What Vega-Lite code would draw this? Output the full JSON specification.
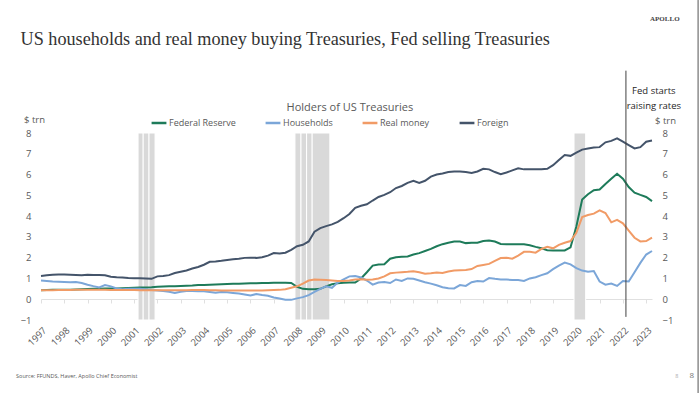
{
  "$schema": "https://vega.github.io/schema/vega-lite/v6.json",
  "width": 611,
  "height": 187,
  "autosize": {"type": "none"},
  "padding": {"left": 41, "top": 133, "right": 48, "bottom": 73},
  "background": "white",
  "config": {"view": {"stroke": null}, "font": "Open Sans"},
  "datasets": {
    "series": [
      {"t": 1997.00, "Federal Reserve": 0.43, "Households": 0.90, "Real money": 0.43, "Foreign": 1.12},
      {"t": 1997.25, "Federal Reserve": 0.44, "Households": 0.88, "Real money": 0.43, "Foreign": 1.15},
      {"t": 1997.50, "Federal Reserve": 0.45, "Households": 0.85, "Real money": 0.43, "Foreign": 1.18},
      {"t": 1997.75, "Federal Reserve": 0.45, "Households": 0.84, "Real money": 0.44, "Foreign": 1.19},
      {"t": 1998.00, "Federal Reserve": 0.46, "Households": 0.83, "Real money": 0.44, "Foreign": 1.19},
      {"t": 1998.25, "Federal Reserve": 0.46, "Households": 0.82, "Real money": 0.44, "Foreign": 1.18},
      {"t": 1998.50, "Federal Reserve": 0.47, "Households": 0.83, "Real money": 0.45, "Foreign": 1.17},
      {"t": 1998.75, "Federal Reserve": 0.48, "Households": 0.78, "Real money": 0.45, "Foreign": 1.15},
      {"t": 1999.00, "Federal Reserve": 0.49, "Households": 0.70, "Real money": 0.45, "Foreign": 1.18},
      {"t": 1999.25, "Federal Reserve": 0.50, "Households": 0.63, "Real money": 0.45, "Foreign": 1.17},
      {"t": 1999.50, "Federal Reserve": 0.51, "Households": 0.57, "Real money": 0.45, "Foreign": 1.16},
      {"t": 1999.75, "Federal Reserve": 0.52, "Households": 0.68, "Real money": 0.45, "Foreign": 1.15},
      {"t": 2000.00, "Federal Reserve": 0.52, "Households": 0.62, "Real money": 0.44, "Foreign": 1.08},
      {"t": 2000.25, "Federal Reserve": 0.52, "Households": 0.52, "Real money": 0.44, "Foreign": 1.06},
      {"t": 2000.50, "Federal Reserve": 0.53, "Households": 0.48, "Real money": 0.44, "Foreign": 1.05},
      {"t": 2000.75, "Federal Reserve": 0.54, "Households": 0.50, "Real money": 0.44, "Foreign": 1.02},
      {"t": 2001.00, "Federal Reserve": 0.55, "Households": 0.51, "Real money": 0.44, "Foreign": 1.01},
      {"t": 2001.25, "Federal Reserve": 0.56, "Households": 0.50, "Real money": 0.43, "Foreign": 1.01},
      {"t": 2001.50, "Federal Reserve": 0.57, "Households": 0.47, "Real money": 0.43, "Foreign": 1.00},
      {"t": 2001.75, "Federal Reserve": 0.58, "Households": 0.44, "Real money": 0.43, "Foreign": 0.98},
      {"t": 2002.00, "Federal Reserve": 0.60, "Households": 0.42, "Real money": 0.43, "Foreign": 1.10},
      {"t": 2002.25, "Federal Reserve": 0.61, "Households": 0.40, "Real money": 0.43, "Foreign": 1.12},
      {"t": 2002.50, "Federal Reserve": 0.62, "Households": 0.36, "Real money": 0.43, "Foreign": 1.16},
      {"t": 2002.75, "Federal Reserve": 0.63, "Households": 0.30, "Real money": 0.43, "Foreign": 1.26},
      {"t": 2003.00, "Federal Reserve": 0.64, "Households": 0.36, "Real money": 0.43, "Foreign": 1.32},
      {"t": 2003.25, "Federal Reserve": 0.65, "Households": 0.40, "Real money": 0.43, "Foreign": 1.38},
      {"t": 2003.50, "Federal Reserve": 0.66, "Households": 0.40, "Real money": 0.44, "Foreign": 1.48},
      {"t": 2003.75, "Federal Reserve": 0.68, "Households": 0.38, "Real money": 0.44, "Foreign": 1.55},
      {"t": 2004.00, "Federal Reserve": 0.69, "Households": 0.38, "Real money": 0.44, "Foreign": 1.66},
      {"t": 2004.25, "Federal Reserve": 0.70, "Households": 0.35, "Real money": 0.43, "Foreign": 1.80},
      {"t": 2004.50, "Federal Reserve": 0.71, "Households": 0.31, "Real money": 0.43, "Foreign": 1.82},
      {"t": 2004.75, "Federal Reserve": 0.72, "Households": 0.35, "Real money": 0.42, "Foreign": 1.85},
      {"t": 2005.00, "Federal Reserve": 0.73, "Households": 0.33, "Real money": 0.42, "Foreign": 1.89},
      {"t": 2005.25, "Federal Reserve": 0.74, "Households": 0.30, "Real money": 0.42, "Foreign": 1.92},
      {"t": 2005.50, "Federal Reserve": 0.75, "Households": 0.27, "Real money": 0.42, "Foreign": 1.95},
      {"t": 2005.75, "Federal Reserve": 0.76, "Households": 0.23, "Real money": 0.42, "Foreign": 1.99},
      {"t": 2006.00, "Federal Reserve": 0.77, "Households": 0.18, "Real money": 0.42, "Foreign": 2.00},
      {"t": 2006.25, "Federal Reserve": 0.77, "Households": 0.25, "Real money": 0.42, "Foreign": 1.99},
      {"t": 2006.50, "Federal Reserve": 0.78, "Households": 0.20, "Real money": 0.42, "Foreign": 2.02},
      {"t": 2006.75, "Federal Reserve": 0.78, "Households": 0.17, "Real money": 0.43, "Foreign": 2.10},
      {"t": 2007.00, "Federal Reserve": 0.79, "Households": 0.08, "Real money": 0.44, "Foreign": 2.22},
      {"t": 2007.25, "Federal Reserve": 0.79, "Households": 0.03, "Real money": 0.45, "Foreign": 2.20},
      {"t": 2007.50, "Federal Reserve": 0.79, "Households": -0.02, "Real money": 0.48, "Foreign": 2.24},
      {"t": 2007.75, "Federal Reserve": 0.78, "Households": -0.03, "Real money": 0.55, "Foreign": 2.38},
      {"t": 2008.00, "Federal Reserve": 0.60, "Households": 0.04, "Real money": 0.62, "Foreign": 2.55},
      {"t": 2008.25, "Federal Reserve": 0.50, "Households": 0.10, "Real money": 0.75, "Foreign": 2.62},
      {"t": 2008.50, "Federal Reserve": 0.48, "Households": 0.20, "Real money": 0.90, "Foreign": 2.78},
      {"t": 2008.75, "Federal Reserve": 0.48, "Households": 0.35, "Real money": 0.95, "Foreign": 3.25},
      {"t": 2009.00, "Federal Reserve": 0.50, "Households": 0.50, "Real money": 0.94, "Foreign": 3.42},
      {"t": 2009.25, "Federal Reserve": 0.62, "Households": 0.62, "Real money": 0.92, "Foreign": 3.52},
      {"t": 2009.50, "Federal Reserve": 0.72, "Households": 0.55, "Real money": 0.90, "Foreign": 3.60},
      {"t": 2009.75, "Federal Reserve": 0.77, "Households": 0.80, "Real money": 0.88, "Foreign": 3.72},
      {"t": 2010.00, "Federal Reserve": 0.79, "Households": 0.95, "Real money": 0.88, "Foreign": 3.90},
      {"t": 2010.25, "Federal Reserve": 0.80, "Households": 1.10, "Real money": 0.90, "Foreign": 4.10},
      {"t": 2010.50, "Federal Reserve": 0.80, "Households": 1.12, "Real money": 0.95, "Foreign": 4.40},
      {"t": 2010.75, "Federal Reserve": 1.00, "Households": 1.05, "Real money": 0.96, "Foreign": 4.50},
      {"t": 2011.00, "Federal Reserve": 1.30, "Households": 0.90, "Real money": 0.94, "Foreign": 4.57},
      {"t": 2011.25, "Federal Reserve": 1.62, "Households": 0.70, "Real money": 0.95, "Foreign": 4.75},
      {"t": 2011.50, "Federal Reserve": 1.67, "Households": 0.80, "Real money": 1.00, "Foreign": 4.92},
      {"t": 2011.75, "Federal Reserve": 1.68, "Households": 0.83, "Real money": 1.10, "Foreign": 5.02},
      {"t": 2012.00, "Federal Reserve": 1.95, "Households": 0.78, "Real money": 1.25, "Foreign": 5.15},
      {"t": 2012.25, "Federal Reserve": 2.02, "Households": 0.95, "Real money": 1.28, "Foreign": 5.35},
      {"t": 2012.50, "Federal Reserve": 2.04, "Households": 0.88, "Real money": 1.30, "Foreign": 5.45},
      {"t": 2012.75, "Federal Reserve": 2.06, "Households": 1.00, "Real money": 1.32, "Foreign": 5.60},
      {"t": 2013.00, "Federal Reserve": 2.15, "Households": 0.98, "Real money": 1.35, "Foreign": 5.70},
      {"t": 2013.25, "Federal Reserve": 2.22, "Households": 0.90, "Real money": 1.30, "Foreign": 5.60},
      {"t": 2013.50, "Federal Reserve": 2.32, "Households": 0.82, "Real money": 1.23, "Foreign": 5.70},
      {"t": 2013.75, "Federal Reserve": 2.42, "Households": 0.75, "Real money": 1.25, "Foreign": 5.90},
      {"t": 2014.00, "Federal Reserve": 2.55, "Households": 0.67, "Real money": 1.28, "Foreign": 6.00},
      {"t": 2014.25, "Federal Reserve": 2.65, "Households": 0.58, "Real money": 1.26, "Foreign": 6.05},
      {"t": 2014.50, "Federal Reserve": 2.72, "Households": 0.53, "Real money": 1.33, "Foreign": 6.12},
      {"t": 2014.75, "Federal Reserve": 2.78, "Households": 0.52, "Real money": 1.38, "Foreign": 6.15},
      {"t": 2015.00, "Federal Reserve": 2.78, "Households": 0.68, "Real money": 1.40, "Foreign": 6.15},
      {"t": 2015.25, "Federal Reserve": 2.70, "Households": 0.64, "Real money": 1.41, "Foreign": 6.12},
      {"t": 2015.50, "Federal Reserve": 2.72, "Households": 0.82, "Real money": 1.45, "Foreign": 6.08},
      {"t": 2015.75, "Federal Reserve": 2.72, "Households": 0.88, "Real money": 1.60, "Foreign": 6.15},
      {"t": 2016.00, "Federal Reserve": 2.80, "Households": 0.85, "Real money": 1.65, "Foreign": 6.28},
      {"t": 2016.25, "Federal Reserve": 2.83, "Households": 1.02, "Real money": 1.70, "Foreign": 6.25},
      {"t": 2016.50, "Federal Reserve": 2.78, "Households": 0.98, "Real money": 1.85, "Foreign": 6.12},
      {"t": 2016.75, "Federal Reserve": 2.66, "Households": 0.95, "Real money": 1.98, "Foreign": 6.02},
      {"t": 2017.00, "Federal Reserve": 2.64, "Households": 0.95, "Real money": 2.00, "Foreign": 6.10},
      {"t": 2017.25, "Federal Reserve": 2.64, "Households": 0.92, "Real money": 1.95, "Foreign": 6.20},
      {"t": 2017.50, "Federal Reserve": 2.64, "Households": 0.92, "Real money": 2.10, "Foreign": 6.30},
      {"t": 2017.75, "Federal Reserve": 2.64, "Households": 0.88, "Real money": 2.28, "Foreign": 6.25},
      {"t": 2018.00, "Federal Reserve": 2.60, "Households": 1.00, "Real money": 2.28, "Foreign": 6.25},
      {"t": 2018.25, "Federal Reserve": 2.52, "Households": 1.06, "Real money": 2.24, "Foreign": 6.25},
      {"t": 2018.50, "Federal Reserve": 2.45, "Households": 1.16, "Real money": 2.42, "Foreign": 6.25},
      {"t": 2018.75, "Federal Reserve": 2.36, "Households": 1.25, "Real money": 2.52, "Foreign": 6.28},
      {"t": 2019.00, "Federal Reserve": 2.35, "Households": 1.45, "Real money": 2.45, "Foreign": 6.45},
      {"t": 2019.25, "Federal Reserve": 2.35, "Households": 1.62, "Real money": 2.62, "Foreign": 6.70},
      {"t": 2019.50, "Federal Reserve": 2.35, "Households": 1.76, "Real money": 2.72, "Foreign": 6.94},
      {"t": 2019.75, "Federal Reserve": 2.50, "Households": 1.68, "Real money": 2.80, "Foreign": 6.90},
      {"t": 2020.00, "Federal Reserve": 3.50, "Households": 1.50, "Real money": 3.20, "Foreign": 7.05},
      {"t": 2020.25, "Federal Reserve": 4.80, "Households": 1.38, "Real money": 3.95, "Foreign": 7.20},
      {"t": 2020.50, "Federal Reserve": 5.05, "Households": 1.32, "Real money": 4.05, "Foreign": 7.25},
      {"t": 2020.75, "Federal Reserve": 5.25, "Households": 1.36, "Real money": 4.12, "Foreign": 7.30},
      {"t": 2021.00, "Federal Reserve": 5.28, "Households": 0.85, "Real money": 4.28, "Foreign": 7.32},
      {"t": 2021.25, "Federal Reserve": 5.55, "Households": 0.70, "Real money": 4.15, "Foreign": 7.55},
      {"t": 2021.50, "Federal Reserve": 5.80, "Households": 0.75, "Real money": 3.70, "Foreign": 7.62},
      {"t": 2021.75, "Federal Reserve": 6.04, "Households": 0.64, "Real money": 3.82, "Foreign": 7.74},
      {"t": 2022.00, "Federal Reserve": 5.80, "Households": 0.88, "Real money": 3.65, "Foreign": 7.58},
      {"t": 2022.25, "Federal Reserve": 5.40, "Households": 0.85, "Real money": 3.30, "Foreign": 7.42},
      {"t": 2022.50, "Federal Reserve": 5.13, "Households": 1.30, "Real money": 2.96, "Foreign": 7.26},
      {"t": 2022.75, "Federal Reserve": 5.02, "Households": 1.75, "Real money": 2.78, "Foreign": 7.32},
      {"t": 2023.00, "Federal Reserve": 4.92, "Households": 2.15, "Real money": 2.80, "Foreign": 7.58},
      {"t": 2023.25, "Federal Reserve": 4.72, "Households": 2.32, "Real money": 2.96, "Foreign": 7.64}
    ],
    "recessions": [
      {"start": 2001.17, "end": 2001.39},
      {"start": 2001.39, "end": 2001.64},
      {"start": 2001.64, "end": 2001.90},
      {"start": 2007.91, "end": 2008.17},
      {"start": 2008.17, "end": 2008.41},
      {"start": 2008.41, "end": 2008.65},
      {"start": 2008.65, "end": 2009.41},
      {"start": 2019.90, "end": 2020.40}
    ],
    "fedline": [{"label": "Fed starts\nraising rates"}],
    "mainTitle": [{"label": "US households and real money buying Treasuries, Fed selling Treasuries"}],
    "chartTitle": [{"label": "Holders of US Treasuries"}],
    "brand": [{"label": "APOLLO"}],
    "source": [{"label": "Source: FFUNDS, Haver, Apollo Chief Economist"}],
    "page": [{"label": "8"}],
    "edge": [{"label": "edge"}]
  },
  "resolve": {"axis": {"x": "independent", "y": "independent"}},
  "layer": [
    {
      "data": {"name": "recessions"},
      "mark": {"type": "rect", "color": "#d9d9d9", "stroke": "white", "strokeWidth": 1},
      "encoding": {
        "x": {"field": "start", "type": "quantitative", "scale": {"domain": [1997, 2023.25], "nice": false, "zero": false}, "axis": null},
        "x2": {"field": "end"},
        "y": {"datum": -1, "type": "quantitative", "scale": {"domain": [-1, 8], "nice": false, "zero": false}, "axis": null},
        "y2": {"datum": 8}
      }
    },
    {
      "data": {"name": "series"},
      "transform": [{"fold": ["Federal Reserve", "Households", "Real money", "Foreign"], "as": ["series", "value"]}],
      "mark": {"type": "line", "strokeWidth": 2},
      "encoding": {
        "x": {
          "field": "t", "type": "quantitative",
          "axis": {
            "values": [1997, 1998, 1999, 2000, 2001, 2002, 2003, 2004, 2005, 2006, 2007, 2008, 2009, 2010, 2011, 2012, 2013, 2014, 2015, 2016, 2017, 2018, 2019, 2020, 2021, 2022, 2023],
            "format": "d", "labelAngle": -45, "labelAlign": "right", "labelBaseline": "top",
            "labelPadding": 5, "labelOverlap": false, "labelFontSize": 9.5, "labelColor": "#595959",
            "domain": false, "ticks": false, "grid": false, "title": null
          }
        },
        "y": {
          "field": "value", "type": "quantitative",
          "axis": {
            "orient": "left", "values": [-1, 0, 1, 2, 3, 4, 5, 6, 7, 8],
            "domain": false, "ticks": false, "grid": false, "labelPadding": 10,
            "labelFontSize": 9.5, "labelColor": "#595959",
            "title": "$ trn", "titleAngle": 0, "titleX": -7, "titleY": -14,
            "titleAlign": "center", "titleBaseline": "middle", "titleFontWeight": "normal",
            "titleFontSize": 9.5, "titleColor": "#595959"
          }
        },
        "color": {
          "field": "series", "type": "nominal",
          "scale": {"domain": ["Federal Reserve", "Households", "Real money", "Foreign"], "range": ["#1e7b5a", "#7ba6d8", "#f19b66", "#44546a"]},
          "legend": {
            "orient": "none", "direction": "horizontal", "legendX": 109, "legendY": -19,
            "title": null, "symbolType": "stroke", "symbolStrokeWidth": 2.5, "symbolSize": 220,
            "labelFontSize": 9, "labelColor": "#595959", "columnPadding": 24, "labelOffset": 1, "padding": 0
          }
        }
      }
    },
    {
      "data": {"name": "fedline"},
      "mark": {"type": "rule", "color": "#404040", "strokeWidth": 1},
      "encoding": {
        "x": {
          "datum": 2022.13, "type": "quantitative",
          "axis": {
            "orient": "bottom", "offset": -21, "labels": false, "domain": true, "domainColor": "#e0e0e0",
            "ticks": true, "tickColor": "#e0e0e0", "tickSize": 4, "grid": false, "title": null,
            "values": [1997, 1998, 1999, 2000, 2001, 2002, 2003, 2004, 2005, 2006, 2007, 2008, 2009, 2010, 2011, 2012, 2013, 2014, 2015, 2016, 2017, 2018, 2019, 2020, 2021, 2022, 2023]
          }
        },
        "y": {
          "datum": -0.85, "type": "quantitative",
          "axis": {
            "orient": "right", "values": [-1, 0, 1, 2, 3, 4, 5, 6, 7, 8],
            "domain": false, "ticks": false, "grid": false, "labelPadding": 10,
            "labelFontSize": 9.5, "labelColor": "#595959",
            "title": "$ trn", "titleAngle": 0, "titleX": 13, "titleY": -13,
            "titleAlign": "center", "titleBaseline": "middle", "titleFontWeight": "normal",
            "titleFontSize": 9.5, "titleColor": "#595959"
          }
        },
        "y2": {"datum": 11}
      }
    },
    {
      "data": {"name": "fedline"},
      "mark": {"type": "text", "fontSize": 9.5, "fontWeight": 500, "color": "#262626", "lineBreak": "\n", "lineHeight": 15, "align": "center", "baseline": "middle"},
      "encoding": {
        "x": {"datum": 2023.33, "type": "quantitative", "axis": null},
        "y": {"datum": 10.0, "type": "quantitative", "axis": null},
        "text": {"field": "label"}
      }
    },
    {
      "data": {"name": "mainTitle"},
      "mark": {"type": "text", "font": "Liberation Serif", "fontSize": 18.2, "color": "#333333", "align": "left", "baseline": "middle"},
      "encoding": {
        "x": {"datum": 1996.12, "type": "quantitative", "axis": null},
        "y": {"datum": 12.47, "type": "quantitative", "axis": null},
        "text": {"field": "label"}
      }
    },
    {
      "data": {"name": "chartTitle"},
      "mark": {"type": "text", "fontSize": 11, "color": "#595959", "align": "center", "baseline": "middle"},
      "encoding": {
        "x": {"datum": 2010.27, "type": "quantitative", "axis": null},
        "y": {"datum": 9.2, "type": "quantitative", "axis": null},
        "text": {"field": "label"}
      }
    },
    {
      "data": {"name": "brand"},
      "mark": {"type": "text", "font": "Liberation Serif", "fontSize": 7, "fontWeight": "bold", "color": "#444444", "align": "center", "baseline": "middle"},
      "encoding": {
        "x": {"datum": 2023.8, "type": "quantitative", "axis": null},
        "y": {"datum": 13.47, "type": "quantitative", "axis": null},
        "text": {"field": "label"}
      }
    },
    {
      "data": {"name": "source"},
      "mark": {"type": "text", "fontSize": 5.5, "color": "#595959", "align": "left", "baseline": "middle"},
      "encoding": {
        "x": {"datum": 1995.93, "type": "quantitative", "axis": null},
        "y": {"datum": -3.7, "type": "quantitative", "axis": null},
        "text": {"field": "label"}
      }
    },
    {
      "data": {"name": "page"},
      "mark": {"type": "text", "fontSize": 5.5, "color": "#aaaaaa", "align": "center", "baseline": "middle"},
      "encoding": {
        "x": {"datum": 2024.32, "type": "quantitative", "axis": null},
        "y": {"datum": -3.7, "type": "quantitative", "axis": null},
        "text": {"field": "label"}
      }
    },
    {
      "data": {"name": "page"},
      "mark": {"type": "text", "fontSize": 8, "color": "#777777", "align": "center", "baseline": "middle"},
      "encoding": {
        "x": {"datum": 2024.96, "type": "quantitative", "axis": null},
        "y": {"datum": -3.7, "type": "quantitative", "axis": null},
        "text": {"field": "label"}
      }
    },
    {
      "data": {"name": "edge"},
      "mark": {"type": "rule", "color": "#555555", "strokeWidth": 1},
      "encoding": {
        "x": {"datum": 2025.23, "type": "quantitative", "axis": null},
        "y": {"datum": -4.6, "type": "quantitative", "axis": null},
        "y2": {"datum": 14.4}
      }
    }
  ]
}
